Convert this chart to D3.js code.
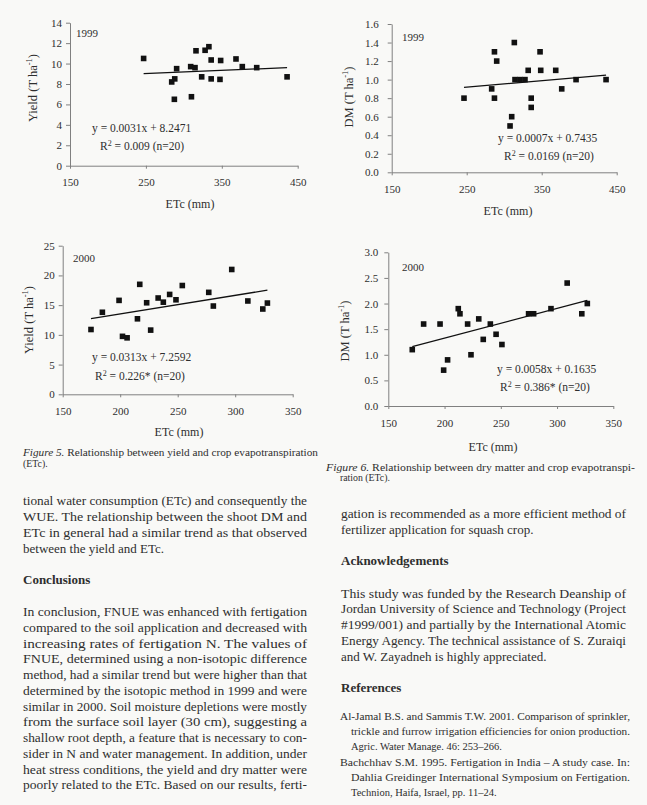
<!DOCTYPE html>
<html>
<head>
<meta charset="utf-8">
<script src="https://cdn.jsdelivr.net/npm/d3@7"></script>
<style>
  body { margin: 0; background: #f9f9f7; }
  svg { display: block; }
  text { font-family: "Liberation Serif", "Times New Roman", serif; fill: #2e2e2e; }
</style>
</head>
<body>
<svg id="page" width="647" height="805"></svg>
<script>
(function() {

  // 1999, yield vs ETc
  var etc99a   = [247, 284, 288, 287.5, 290.5, 309, 310, 314.7, 316, 323.5, 328, 333, 336, 336, 348.5, 347.6, 368.7, 377, 396, 436];
  var yield99  = [10.5, 8.2, 8.5, 6.5, 9.5, 9.7, 6.75, 9.6, 11.25, 8.7, 11.3, 11.65, 10.35, 8.5, 10.3, 8.45, 10.45, 9.7, 9.6, 8.7];
  // 1999, DM vs ETc
  var etc99b   = [246.4, 283.3, 287, 287, 290, 307.8, 310, 313.5, 314.4, 321, 327.7, 332, 336, 336, 347.8, 348.7, 368.7, 376.7, 395.8, 435.8];
  var dm99     = [0.8, 0.9, 1.3, 0.8, 1.2, 0.5, 0.6, 1.4, 1.0, 1.0, 1.0, 1.1, 0.8, 0.7, 1.3, 1.1, 1.1, 0.9, 1.0, 1.0];
  // 2000, yield vs ETc
  var etc00a   = [174.6, 184.5, 199, 202, 206, 215, 217, 223, 226.5, 233, 237.5, 243, 248.5, 254, 277, 281, 297, 311, 324, 328];
  var yield00  = [10.9, 13.8, 15.8, 9.75, 9.5, 12.7, 18.5, 15.4, 10.8, 16.2, 15.5, 16.8, 15.9, 18.3, 17.15, 14.85, 21, 15.7, 14.35, 15.35];
  // 2000, DM vs ETc
  var etc00b   = [171.3, 181.4, 196, 199.2, 202.7, 212.2, 213.7, 220.5, 223.5, 230.4, 234.4, 240.7, 245.8, 251, 274.7, 279.2, 294.6, 309, 322, 326.9];
  var dm00     = [1.1, 1.6, 1.6, 0.7, 0.9, 1.9, 1.8, 1.6, 1.0, 1.7, 1.3, 1.6, 1.4, 1.2, 1.8, 1.8, 1.9, 2.4, 1.8, 2.0];

  var xTicks99     = [150, 250, 350, 450];
  var xTicks00     = [150, 200, 250, 300, 350];
  var yieldTicks99 = [0, 2, 4, 6, 8, 10, 12, 14];
  var dmTicks99    = [0, 0.2, 0.4, 0.6, 0.8, 1.0, 1.2, 1.4, 1.6];
  var yieldTicks00 = [0, 5, 10, 15, 20, 25];
  var dmTicks00    = [0, 0.5, 1.0, 1.5, 2.0, 2.5, 3.0];

  var slopes     = [0.0031, 0.0007, 0.0313, 0.0058];
  var intercepts = [8.2471, 0.7435, 7.2592, 0.1635];
  var eqLabels   = ['y = 0.0031x + 8.2471', 'y = 0.0007x + 0.7435', 'y = 0.0313x + 7.2592', 'y = 0.0058x + 0.1635'];
  var r2Labels   = [' = 0.009 (n=20)', ' = 0.0169 (n=20)', ' = 0.226* (n=20)', ' = 0.386* (n=20)'];

  var svg = d3.select('#page');

  var charts = [
    { xs: etc99a, ys: yield99, xt: xTicks99, yt: yieldTicks99, fmt: d3.format('d'),
      xr: [70, 297.7], yr: [165.7, 22.7], yLabel: 'Yield (T ha', year: '1999',
      yearPos: [76, 37], yTitle: [37, 88], xTitle: [190, 207.5], eq: [92, 132], r2: [100, 150], lgap: 4 },
    { xs: etc99b, ys: dm99, xt: xTicks99, yt: dmTicks99, fmt: d3.format('.1f'),
      xr: [391.7, 616.7], yr: [172.3, 24], yLabel: 'DM (T ha', year: '1999',
      yearPos: [402, 41], yTitle: [353, 97], xTitle: [508, 214.5], eq: [498, 142], r2: [504, 160], lgap: 9 },
    { xs: etc00a, ys: yield00, xt: xTicks00, yt: yieldTicks00, fmt: d3.format('d'),
      xr: [62.7, 292.7], yr: [394.3, 245.7], yLabel: 'Yield (T ha', year: '2000',
      yearPos: [73, 262], yTitle: [33, 320], xTitle: [179, 435.5], eq: [92, 361], r2: [95, 379.5], lgap: 4 },
    { xs: etc00b, ys: dm00, xt: xTicks00, yt: dmTicks00, fmt: d3.format('.1f'),
      xr: [388.3, 613.3], yr: [406, 252.3], yLabel: 'DM (T ha', year: '2000',
      yearPos: [402, 271], yTitle: [349, 331], xTitle: [493, 450.5], eq: [497, 373], r2: [500, 391], lgap: 6 }
  ];

  charts.forEach(drawChart);
  drawText();

  function drawChart(c, i) {
    var x = d3.scaleLinear()
      .domain([c.xt[0], c.xt[c.xt.length - 1]])
      .range(c.xr);
    var y = d3.scaleLinear()
      .domain([c.yt[0], c.yt[c.yt.length - 1]])
      .range(c.yr);

    var g = svg.append('g');

    g.append('g')
      .attr('transform', 'translate(0,' + c.yr[0] + ')')
      .call(d3.axisBottom(x).tickValues(c.xt).tickSize(3).tickSizeOuter(0).tickPadding(10))
      .call(styleAxis);

    g.append('g')
      .attr('transform', 'translate(' + c.xr[0] + ',0)')
      .call(d3.axisLeft(y).tickValues(c.yt).tickFormat(c.fmt).tickSize(4).tickSizeOuter(0).tickPadding(c.lgap))
      .call(styleAxis);

    // regression line over the ETc range of the points
    var ext = d3.extent(c.xs);
    var line = d3.line()
      .x(function(d) { return x(d); })
      .y(function(d) { return y(slopes[i] * d + intercepts[i]); });
    g.append('path')
      .datum(ext)
      .attr('d', line)
      .attr('fill', 'none')
      .attr('stroke', '#111')
      .attr('stroke-width', 1.3);

    g.selectAll('rect.pt')
      .data(c.xs)
      .enter()
      .append('rect')
      .attr('class', 'pt')
      .attr('x', function(d) { return x(d) - 2.8; })
      .attr('y', function(d, j) { return y(c.ys[j]) - 2.8; })
      .attr('width', 5.6)
      .attr('height', 5.6)
      .attr('fill', '#111');

    g.append('text')
      .attr('x', c.yearPos[0])
      .attr('y', c.yearPos[1])
      .style('font-size', '11px')
      .text(c.year);

    var yt = g.append('text')
      .attr('transform', 'translate(' + c.yTitle[0] + ',' + c.yTitle[1] + ') rotate(-90)')
      .attr('text-anchor', 'middle')
      .style('font-size', '12.5px')
      .text(c.yLabel);
    yt.append('tspan').attr('baseline-shift', 'super').style('font-size', '8.5px').text('-1');
    yt.append('tspan').text(')');

    g.append('text')
      .attr('x', c.xTitle[0])
      .attr('y', c.xTitle[1])
      .attr('text-anchor', 'middle')
      .style('font-size', '12px')
      .text('ETc (mm)');

    g.append('text')
      .attr('x', c.eq[0])
      .attr('y', c.eq[1])
      .style('font-size', '11.5px')
      .text(eqLabels[i]);

    var r2 = g.append('text')
      .attr('x', c.r2[0])
      .attr('y', c.r2[1])
      .style('font-size', '11.5px')
      .text('R');
    r2.append('tspan').attr('baseline-shift', 'super').style('font-size', '8px').text('2');
    r2.append('tspan').text(r2Labels[i]);
  }

  function styleAxis(sel) {
    sel.attr('font-family', null).attr('font-size', null);
    sel.select('.domain').attr('stroke', '#808080').attr('stroke-width', 1);
    sel.selectAll('.tick line').attr('stroke', '#808080');
    sel.selectAll('.tick text')
      .style('font-size', '11px')
      .attr('fill', '#2e2e2e');
  }

  // one line of page text; justified lines get the width they have in the scan
  function addLine(x, y, txt, size, width, weight) {
    var t = svg.append('text')
      .attr('x', x)
      .attr('y', y)
      .style('font-size', size + 'px')
      .text(txt);
    if (width) t.attr('textLength', width).attr('lengthAdjust', 'spacingAndGlyphs');
    if (weight) t.style('font-weight', weight);
    return t;
  }

  function drawText() {
    var c5 = addLine(23, 456, '', 9.8, 295);
    c5.append('tspan').style('font-style', 'italic').text('Figure 5.');
    c5.append('tspan').text(' Relationship between yield and crop evapotranspiration');
    addLine(23, 466.5, '(ETc).', 9.8);

    var c6 = addLine(326, 471, '', 9.8, 309);
    c6.append('tspan').style('font-style', 'italic').text('Figure 6.');
    c6.append('tspan').text(' Relationship between dry matter and crop evapotranspi-');
    addLine(340, 480.5, 'ration (ETc).', 9.8);

    var leftTop = [
      'tional water consumption (ETc) and consequently the',
      'WUE. The relationship between the shoot DM and',
      'ETc in general had a similar trend as that observed'
    ];
    leftTop.forEach(function(s, k) { addLine(23, 505 + k * 15.8, s, 13, 284); });
    addLine(23, 552.5, 'between the yield and ETc.', 13);

    addLine(23, 583.5, 'Conclusions', 13, null, 'bold');

    var concl = [
      'In conclusion, FNUE was enhanced with fertigation',
      'compared to the soil application and decreased with',
      'increasing rates of fertigation N. The values of',
      'FNUE, determined using a non-isotopic difference',
      'method, had a similar trend but were higher than that',
      'determined by the isotopic method in 1999 and were',
      'similar in 2000. Soil moisture depletions were mostly',
      'from the surface soil layer (30 cm), suggesting a',
      'shallow root depth, a feature that is necessary to con-',
      'sider in N and water management. In addition, under',
      'heat stress conditions, the yield and dry matter were',
      'poorly related to the ETc. Based on our results, ferti-'
    ];
    concl.forEach(function(s, k) { addLine(23, 616 + k * 15.75, s, 13, 284); });

    addLine(341, 517.5, 'gation is recommended as a more efficient method of', 13, 285);
    addLine(341, 533.5, 'fertilizer application for squash crop.', 13);

    addLine(341, 565, 'Acknowledgements', 13, null, 'bold');

    var ack = [
      'This study was funded by the Research Deanship of',
      'Jordan University of Science and Technology (Project',
      '#1999/001) and partially by the International Atomic',
      'Energy Agency. The technical assistance of S. Zuraiqi'
    ];
    ack.forEach(function(s, k) { addLine(341, 597.5 + k * 15.7, s, 13, 285); });
    addLine(341, 660.5, 'and W. Zayadneh is highly appreciated.', 13);

    addLine(341, 691.5, 'References', 13, null, 'bold');

    addLine(340, 719.5, 'Al-Jamal B.S. and Sammis T.W. 2001. Comparison of sprinkler,', 10.5, 290);
    addLine(351, 735, 'trickle and furrow irrigation efficiencies for onion production.', 10.5, 279);
    addLine(351, 750, 'Agric. Water Manage. 46: 253\u2013266.', 10.5);
    addLine(340, 766, 'Bachchhav S.M. 1995. Fertigation in India \u2013 A study case. In:', 10.5, 290);
    addLine(351, 781, 'Dahlia Greidinger International Symposium on Fertigation.', 10.5, 279);
    addLine(351, 796, 'Technion, Haifa, Israel, pp. 11\u201324.', 10.5);
  }
})();
</script>
</body>
</html>
